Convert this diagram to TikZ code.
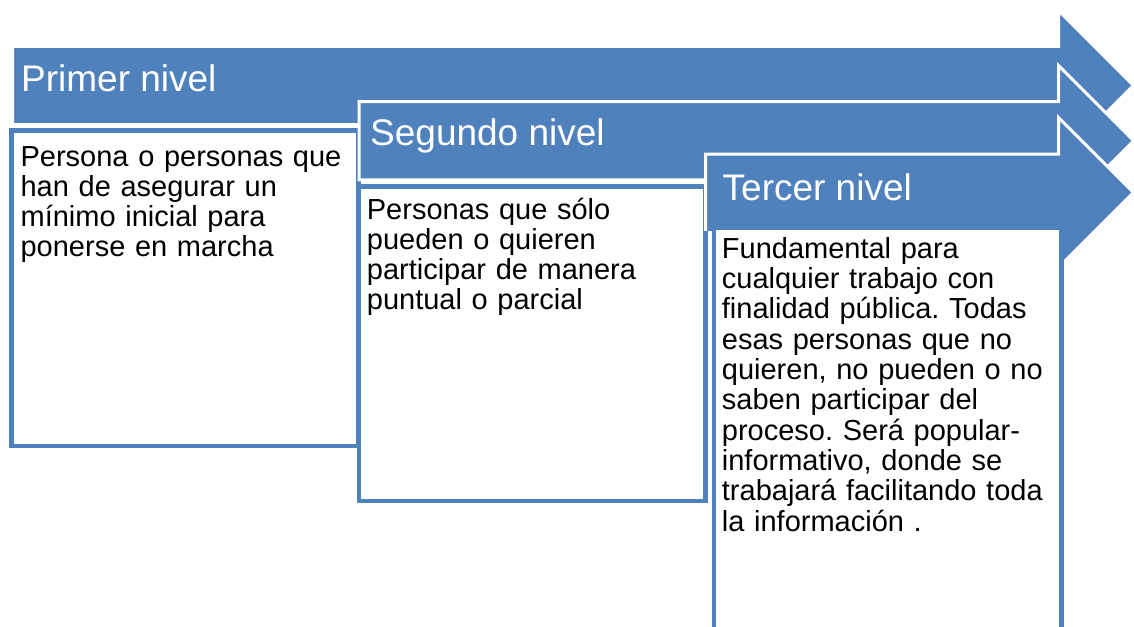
\documentclass[tikz,border=0pt]{standalone}
\usepackage{fontspec}
\setmainfont{Liberation Sans}
\definecolor{acc}{HTML}{4F81BD}
\frenchspacing
\begin{document}
\begin{tikzpicture}[x=1pt,y=-1pt,
  arrowfill/.style={fill=acc},
  arrowline/.style={draw=white, line width=3pt, line join=miter},
  textbox/.style={fill=white, draw=acc, line width=4.5pt, line join=miter},
  title/.style={anchor=base west, inner sep=0pt, text=white, font=\fontsize{37}{40}\selectfont},
  body/.style={anchor=base west, inner sep=0pt, align=left, text width=340pt, font=\fontsize{29}{30}\selectfont\frenchspacing}]
\useasboundingbox (0,0) rectangle (1134,626);
\begin{scope}
\clip (0,0) rectangle (1134,626);
% arrow 1
\filldraw[arrowfill, arrowline] (12.5,46.5) -- (1058.5,46.5) -- (1058.5,10.5) -- (1133.5,85.5) -- (1058.5,160.5) -- (1058.5,124.5) -- (12.5,124.5) -- cycle;
% box 1
\draw[textbox] (11.5,130.5) rectangle (358.5,446);
% arrow 2
\filldraw[arrowfill, arrowline] (359,101.7) -- (1058.5,101.7) -- (1058.5,65.5) -- (1133.75,140.75) -- (1058.5,216) -- (1058.5,179.8) -- (359,179.8) -- cycle;
% box 2
\draw[textbox] (358.9,186.5) rectangle (705.5,501.2);
% arrow 3
\fill[arrowfill] (705.5,230.8) -- (705.5,154.2) -- (1058.5,154.2) -- (1058.5,117.5) -- (1133.5,192.5) -- (1058.5,267.5) -- (1058.5,230.8) -- cycle;
\draw[arrowline] (705.5,230.8) -- (705.5,154.2) -- (1058.5,154.2) -- (1058.5,117.5) -- (1133.5,192.5) -- (1058.5,267.5);
% box 3
\draw[textbox] (714.2,227.5) rectangle (1061.3,700);
\end{scope}
% titles
\node[title] (t1) at (21,92) {Primer nivel};
\node[title] (t2) at (370,145) {Segundo nivel};
\node[title] (t3) at (722.5,200) {Tercer nivel};
% bodies
\node[body] (b1) at (20.4,166.5) {Persona o personas que\\han de asegurar un\\mínimo inicial para\\ponerse en marcha};
\node[body] (b2) at (366.7,219.5) {Personas que sólo\\pueden o quieren\\participar de manera\\puntual o parcial};
\node[body, font=\fontsize{29}{30.3}\selectfont\frenchspacing] (b3) at (721.7,258.3) {Fundamental para\\cualquier trabajo con\\finalidad pública. Todas\\esas personas que no\\quieren, no pueden o no\\saben participar del\\proceso. Será popular-\\informativo, donde se\\trabajará facilitando toda\\la información .};
\end{tikzpicture}
\end{document}
